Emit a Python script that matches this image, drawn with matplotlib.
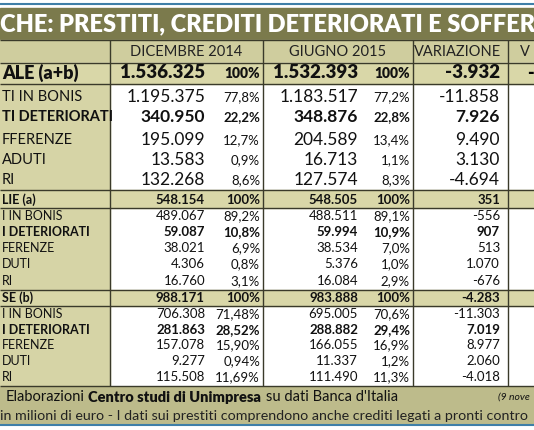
import matplotlib
matplotlib.use('Agg')
import matplotlib.pyplot as plt
from matplotlib.patches import Rectangle

plt.rcParams['font.family'] = ['Lato', 'DejaVu Sans']

TITLE = 'CHE: PRESTITI, CREDITI DETERIORATI E SOFFERE'
HEADERS = ['DICEMBRE 2014', 'GIUGNO 2015', 'VARIAZIONE']

# rows: label, dic value, dic %, giu value, giu %, variazione
LABELS = ['ALE (a+b)', 'TI IN BONIS', 'TI DETERIORATI', 'FFERENZE', 'ADUTI', 'RI',
          'LIE (a)', 'I IN BONIS', 'I DETERIORATI', 'FERENZE', 'DUTI', 'RI',
          'SE (b)', 'I IN BONIS', 'I DETERIORATI', 'FERENZE', 'DUTI', 'RI']
DIC_VAL = ['1.536.325', '1.195.375', '340.950', '195.099', '13.583', '132.268',
           '548.154', '489.067', '59.087', '38.021', '4.306', '16.760',
           '988.171', '706.308', '281.863', '157.078', '9.277', '115.508']
DIC_PCT = ['100%', '77,8%', '22,2%', '12,7%', '0,9%', '8,6%',
           '100%', '89,2%', '10,8%', '6,9%', '0,8%', '3,1%',
           '100%', '71,48%', '28,52%', '15,90%', '0,94%', '11,69%']
GIU_VAL = ['1.532.393', '1.183.517', '348.876', '204.589', '16.713', '127.574',
           '548.505', '488.511', '59.994', '38.534', '5.376', '16.084',
           '983.888', '695.005', '288.882', '166.055', '11.337', '111.490']
GIU_PCT = ['100%', '77,2%', '22,8%', '13,4%', '1,1%', '8,3%',
           '100%', '89,1%', '10,9%', '7,0%', '1,0%', '2,9%',
           '100%', '70,6%', '29,4%', '16,9%', '1,2%', '11,3%']
VAR = ['-3.932', '-11.858', '7.926', '9.490', '3.130', '-4.694',
       '351', '-556', '907', '513', '1.070', '-676',
       '-4.283', '-11.303', '7.019', '8.977', '2.060', '-4.018']
SECTION = [0, 6, 12]
BOLD = [0, 2, 6, 8, 12, 14]

ROW_Y = [73, 97, 117, 140, 160, 180, 200, 216, 232, 248, 264, 281,
         298, 314, 330, 345, 361, 377]
ROW_EDGES = [63, 84, 190, 208, 290, 306, 386]

DARK = '#7b7a4c'
LIGHT = '#d6d4a6'
SECT = '#d9d7a8'
LINE = '#3a3a2a'

fig = plt.figure(figsize=(5.34, 4.30), dpi=100)
ax = fig.add_axes([0, 0, 1, 1])
ax.set_xlim(0, 534); ax.set_ylim(430, 0); ax.axis('off')

ax.axhline(4, color='#3f7fa8', lw=1.5)
ax.add_patch(Rectangle((0, 8), 534, 31, color=DARK))
ax.text(0, 24, TITLE, color='white', fontsize=17, fontweight='heavy', va='center')

# header
ax.add_patch(Rectangle((0, 40), 534, 23, color='#cfcd9e'))
for h, xc in zip(HEADERS, [186, 338, 458]):
    ax.text(xc, 52, h, fontsize=10.5, ha='center', va='center', color='#222')
ax.text(520, 52, 'V', fontsize=10.5, va='center', color='#222')

# body backgrounds
ax.add_patch(Rectangle((0, 63), 534, 323, color='white'))
ax.add_patch(Rectangle((0, 63), 110, 323, color=LIGHT))
for top, h in [(63, 21), (190, 18), (290, 16)]:
    ax.add_patch(Rectangle((0, top), 534, h, color=SECT))

for i, y in enumerate(ROW_Y):
    big = i < 6
    w = 'bold' if i in BOLD else 'normal'
    if i == 0:
        fs, pfs, lfs, w = 13.5, 10, 13, 'heavy'
    elif big:
        fs, pfs, lfs = 12.5, 9.5, 10.5
    else:
        fs, pfs, lfs = 9.5, 9.5, 9
    ax.text(2, y, LABELS[i], fontsize=lfs, fontweight=w, va='center', color='#111')
    ax.text(205, y, DIC_VAL[i], fontsize=fs, fontweight=w, ha='right', va='center', color='#111')
    ax.text(260, y, DIC_PCT[i], fontsize=pfs, fontweight=w, ha='right', va='center', color='#111')
    ax.text(358, y, GIU_VAL[i], fontsize=fs, fontweight=w, ha='right', va='center', color='#111')
    ax.text(410, y, GIU_PCT[i], fontsize=pfs, fontweight=w, ha='right', va='center', color='#111')
    ax.text(500, y, VAR[i], fontsize=fs, fontweight=w, ha='right', va='center', color='#111')
ax.text(527, 73, '-', fontsize=13, fontweight='heavy', va='center')

for ye in ROW_EDGES + [40]:
    ax.hlines(ye, 0, 534, color=LINE, lw=1)
for xv in [110, 263, 413, 508]:
    ax.vlines(xv, 40, 386, color=LINE, lw=1)

# footer
ax.add_patch(Rectangle((0, 387), 534, 36, color='#bdbb8b'))
ax.text(6, 397, 'Elaborazioni', fontsize=10.5, va='center', color='#111')
ax.text(88, 397, 'Centro studi di Unimpresa', fontsize=10.5, fontweight='heavy', va='center', color='#111')
ax.text(266, 397, "su dati Banca d'Italia", fontsize=10.5, va='center', color='#111')
ax.text(498, 397, '(9 nove', fontsize=7.5, style='italic', va='center', color='#111')
ax.text(0, 416, 'in milioni di euro - I dati sui prestiti comprendono anche crediti legati a pronti contro',
        fontsize=10.3, va='center', color='#222')
ax.axhline(424.5, color='#3f7fa8', lw=1.5)

fig.savefig('out.png', dpi=100)
